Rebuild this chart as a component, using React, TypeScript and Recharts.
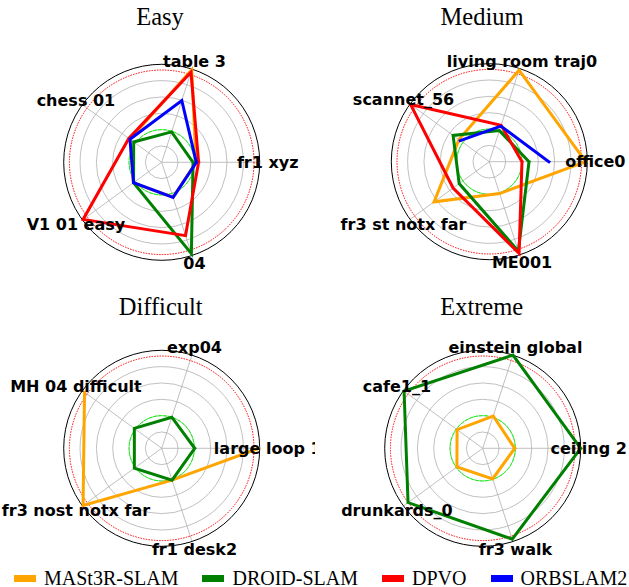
import { RadarChart, Radar, PolarGrid, PolarAngleAxis, PolarRadiusAxis } from "recharts";

const SERIES = ["MASt3R-SLAM", "DROID-SLAM", "DPVO", "ORBSLAM2"];
const COLORS = ["#ffa500", "#008000", "#ff0000", "#0000ff"];

// radial scale: 0..6, grid rings at 1..5, green reference at 2, red reference near the rim
const R_MAX = 6;
const RING_VALUES = [1, 2, 3, 4, 5];
const GREEN_REF = 2;
const RED_REF = 5.65;

const easyLabels = ["fr1 xyz", "table 3", "chess 01", "V1 01 easy", "04"];
const easyMast3r = [2.1, 5.95, 2.4, 2.15, 2.25];
const easyDroid = [1.92, 1.96, 2.12, 2.13, 5.88];
const easyDpvo = [2.26, 5.8, 2.49, 5.95, 4.72];
const easyOrb = [2.12, 3.98, 2.4, 2.13, 2.26];

const mediumLabels = ["office0", "living room traj0", "scannet_56", "fr3 st notx far", "ME001"];
const mediumMast3r = [5.9, 5.89, 2.3, 4.18, 2.05];
const mediumDroid = [2.43, 2.0, 2.74, 2.28, 5.76];
const mediumDpvo = [2.0, 2.35, 5.96, 2.74, 5.9];
const mediumOrb = [3.65, 2.29, 2.2, null, null];

const difficultLabels = ["large loop 1", "exp04", "MH 04 difficult", "fr3 nost notx far", "fr1 desk2"];
const difficultMast3r = [5.95, null, 5.84, 5.95, 2.05];
const difficultDroid = [2.02, 2.0, 2.07, 2.07, 2.05];
const difficultDpvo = [null, null, null, null, null];
const difficultOrb = [null, null, null, null, null];

const extremeLabels = ["ceiling 2", "einstein global", "cafe1_1", "drunkards_0", "fr3 walk"];
const extremeMast3r = [1.96, 2.08, 1.94, 1.95, 1.97];
const extremeDroid = [6.0, 6.0, 5.95, 5.65, 5.85];
const extremeDpvo = [null, null, null, null, null];
const extremeOrb = [null, null, null, null, null];

const PANELS = [
  { title: "Easy", labels: easyLabels, values: [easyMast3r, easyDroid, easyDpvo, easyOrb] },
  { title: "Medium", labels: mediumLabels, values: [mediumMast3r, mediumDroid, mediumDpvo, mediumOrb] },
  { title: "Difficult", labels: difficultLabels, values: [difficultMast3r, difficultDroid, difficultDpvo, difficultOrb] },
  { title: "Extreme", labels: extremeLabels, values: [extremeMast3r, extremeDroid, extremeDpvo, extremeOrb] },
];

const LAYOUT = [
  { left: 0, top: 0, width: 315, cx: 161.7, cy: 162.3, titleX: 160 },
  { left: 315, top: 0, width: 314, cx: 174.3, cy: 161.7, titleX: 167 },
  { left: 0, top: 290, width: 315, cx: 161.7, cy: 158.3, titleX: 160.7 },
  { left: 315, top: 290, width: 314, cx: 167.7, cy: 158.3, titleX: 166.7 },
];

const OUTER = 98;
const toPx = (v: number) => (v / R_MAX) * OUTER;

const makeTick = (labels: string[]) => (props: any) => {
  const { x, y, payload } = props;
  return (
    <text x={x} y={y} dy="0.36em" textAnchor="middle" fontFamily="DejaVu Sans" fontWeight="bold" fontSize={16} fill="#000">
      {labels[payload.value]}
    </text>
  );
};

// matplotlib-style closed line: NaN values break the polygon
const brokenShape = (color: string) => (props: any) => {
  const pts = props.points || [];
  if (!pts.length) return <g />;
  const closed = [...pts, pts[0]];
  let d = "";
  let pen = false;
  closed.forEach((p: any) => {
    if (p.value == null || !isFinite(p.x) || !isFinite(p.y)) {
      pen = false;
      return;
    }
    d += `${pen ? "L" : "M"}${p.x},${p.y}`;
    pen = true;
  });
  return <path d={d} fill="none" stroke={color} strokeWidth={3} strokeLinecap="square" />;
};

function Panel({ index }: { index: number }) {
  const panel = PANELS[index];
  const lay = LAYOUT[index];
  const n = panel.labels.length;
  const rows = panel.labels.map((name, i) => {
    const row: any = { name, idx: i };
    panel.values.forEach((vals, s) => (row[`s${s}`] = vals[i]));
    return row;
  });

  return (
    <div style={{ position: "absolute", left: lay.left, top: lay.top, width: lay.width, height: 290 }}>
      <div
        style={{
          position: "absolute",
          left: lay.titleX - 80,
          width: 160,
          top: 0,
          textAlign: "center",
          fontFamily: "Liberation Serif",
          fontSize: 24.5,
          lineHeight: "34px",
          color: "#000",
        }}
      >
        {panel.title}
      </div>
      {/* numeric angle axis: category i sits at i * 360/n degrees, counterclockwise from east */}
      <RadarChart
        width={lay.width}
        height={290}
        cx={lay.cx}
        cy={lay.cy}
        outerRadius={OUTER}
        data={rows}
        startAngle={0}
        endAngle={360}
        margin={{ top: 0, right: 0, bottom: 0, left: 0 }}
      >
        <PolarGrid gridType="circle" polarRadius={RING_VALUES.map(toPx)} stroke="#b0b0b0" strokeWidth={0.8} />
        <PolarGrid gridType="circle" polarRadius={[OUTER]} radialLines={false} stroke="#000" strokeWidth={1} />
        <PolarGrid gridType="circle" polarRadius={[toPx(RED_REF)]} radialLines={false} stroke="#ff0000" strokeWidth={1} strokeDasharray="1.5 1.2" />
        <PolarGrid gridType="circle" polarRadius={[toPx(GREEN_REF)]} radialLines={false} stroke="#00ff00" strokeWidth={1} strokeDasharray="4 1" />
        <PolarAngleAxis
          dataKey="idx"
          type="number"
          domain={[0, n]}
          ticks={panel.labels.map((_, i) => i)}
          allowDecimals={false}
          tick={makeTick(panel.labels)}
          tickSize={8}
          axisLine={false}
          tickLine={false}
        />
        <PolarRadiusAxis domain={[0, R_MAX]} tick={false} axisLine={false} />
        {SERIES.map((name, s) => (
          <Radar
            key={name}
            name={name}
            dataKey={`s${s}`}
            stroke={COLORS[s]}
            fill="none"
            dot={false}
            isAnimationActive={false}
            shape={brokenShape(COLORS[s])}
          />
        ))}
      </RadarChart>
    </div>
  );
}

export default function App() {
  return (
    <div style={{ position: "absolute", left: 0, top: 0, width: 629, height: 587, background: "#fff", overflow: "hidden" }}>
      {PANELS.map((p, i) => (
        <Panel key={p.title} index={i} />
      ))}
      <div
        style={{
          position: "absolute",
          left: 14,
          top: 566,
          display: "flex",
          alignItems: "center",
          whiteSpace: "nowrap",
          fontFamily: "Liberation Serif",
          fontSize: 20,
          lineHeight: "24px",
          color: "#000",
        }}
      >
        {SERIES.map((name, s) => (
          <div key={name} style={{ display: "flex", alignItems: "center", marginRight: 24 }}>
            <div style={{ width: 22, height: 7, background: COLORS[s], marginRight: 8 }} />
            <span>{name}</span>
          </div>
        ))}
      </div>
    </div>
  );
}
